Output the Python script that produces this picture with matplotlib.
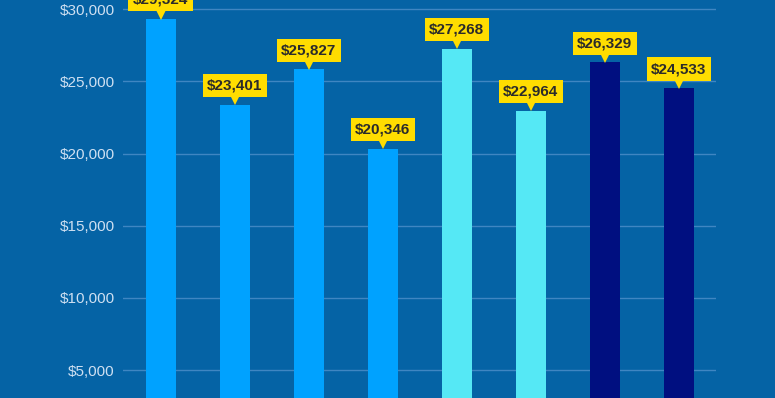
#!/usr/bin/env python3

import matplotlib
matplotlib.use("Agg")
import matplotlib.pyplot as plt
import matplotlib.transforms as mtransforms
from matplotlib.ticker import FuncFormatter

# data
values = [29324, 23401, 25827, 20346, 27268, 22964, 26329, 24533]
groups = [0, 0, 0, 0, 1, 1, 2, 2]
group_colors = ["#00a2ff", "#55e8f5", "#000f80"]
yticks = [5000, 10000, 15000, 20000, 25000, 30000]

BG = "#0563a5"


def money(v, pos=None):
    return "${:,.0f}".format(v)


def main():
    plt.rcParams['font.family'] = ['Liberation Sans', 'DejaVu Sans']
    fig = plt.figure(figsize=(7.75, 3.98), dpi=100, facecolor=BG)
    ax = fig.add_axes([123 / 775, 0, (716 - 123) / 775, 1])
    ax.set_facecolor(BG)

    x = list(range(len(values)))
    colors = [group_colors[g] for g in groups]
    ax.bar(x, values, width=30 / 74, color=colors, zorder=2)

    ax.set_xlim(-0.51, 7.5)
    ax.set_ylim(3063, 30643)
    ax.set_yticks(yticks)
    ax.yaxis.set_major_formatter(FuncFormatter(money))
    ax.grid(axis='y', color="#3f86c2", linewidth=1, zorder=0)
    ax.set_xticks([])
    for s in ax.spines.values():
        s.set_visible(False)
    ax.tick_params(axis='y', length=0, pad=6, labelsize=11,
                   labelcolor="#cfe0f2")

    # callout labels
    for xi, v in zip(x, values):
        tri = mtransforms.offset_copy(ax.transData, fig=fig, x=0, y=4.5,
                                      units='dots')
        ax.plot([xi], [v], marker='v', markersize=7.5, color="#ffdd00",
                markeredgewidth=0, transform=tri, zorder=4, clip_on=False)
        ax.annotate(money(v), (xi, v), xytext=(0, 13.8),
                    textcoords='offset points', ha='center', va='center',
                    fontsize=11, fontweight='bold', color="#2b2b2b",
                    zorder=5, annotation_clip=False,
                    bbox=dict(boxstyle='square,pad=0.3', fc="#ffdd00",
                              ec='none'))

    fig.savefig("out.png", dpi=100, facecolor=BG)


if __name__ == "__main__":
    main()
